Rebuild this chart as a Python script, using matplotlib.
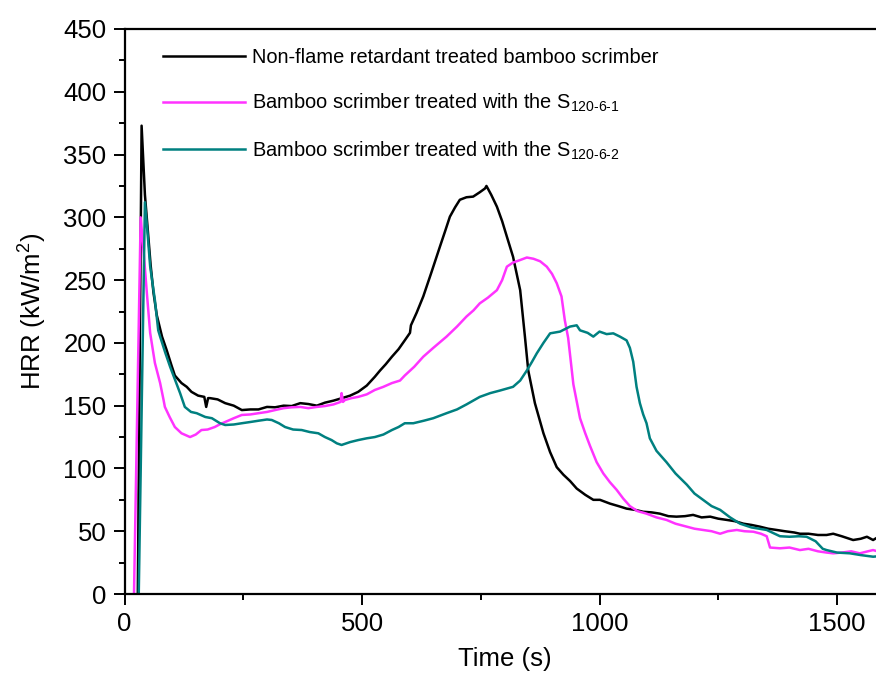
import matplotlib
matplotlib.use("Agg")
import matplotlib.pyplot as plt
from matplotlib.ticker import MultipleLocator

plt.rcParams['font.family'] = ['Liberation Sans', 'DejaVu Sans']
plt.rcParams['mathtext.fontset'] = 'custom'
plt.rcParams['mathtext.rm'] = 'Liberation Sans'
plt.rcParams['mathtext.it'] = 'Liberation Sans:italic'
plt.rcParams['mathtext.bf'] = 'Liberation Sans:bold'

# ---------------- data ----------------
black_t = [28, 36, 43, 49, 55, 61, 68, 79, 89, 99, 106, 120, 131, 141, 155, 168, 172, 176,
           180, 196, 212, 230, 247, 265, 282, 300, 317, 335, 352, 370, 387, 405, 422, 440,
           457, 475, 492, 510, 527, 538, 550, 563, 577, 590, 601, 603, 615, 629, 646, 664,
           675, 685, 696, 706, 720, 734, 748, 759, 762, 772, 784, 795, 805, 818, 833, 843,
           850, 864, 882, 896, 910, 924, 938, 952, 970, 987, 1001, 1022, 1040, 1057, 1075,
           1092, 1110, 1127, 1145, 1162, 1180, 1197, 1215, 1233, 1250, 1268, 1285, 1303,
           1320, 1338, 1355, 1373, 1390, 1410, 1422, 1440, 1460, 1478, 1492, 1510, 1534,
           1550, 1563, 1576, 1585]
black_v = [0, 373, 318, 290, 262, 240, 222, 205, 194, 182, 174, 168, 165, 161, 158, 157, 149, 156,
           156, 155, 152, 150, 146.5, 147, 147, 149, 148.7, 150, 149.7, 152, 151.3, 150, 152.4, 154,
           155.9, 158, 161, 166, 173, 178, 183, 189, 195, 202, 208, 214, 224, 237, 256, 276.6,
           289, 300.5, 308, 314, 316, 316.5, 320, 323, 325, 318, 308.5, 297, 284.6, 268.6, 242, 205,
           178, 152, 128, 113, 101, 95, 90, 84, 79, 75, 75, 72, 70, 68, 67,
           65.5, 65, 64, 62, 61.6, 62, 63, 61, 61.6, 60, 59, 58, 56,
           55, 53.6, 52, 51, 50, 49, 48, 48, 47, 47, 48, 46, 43,
           44, 45.6, 43, 45]

pink_t = [20, 34, 40, 47, 54, 64, 75, 82, 85, 95, 106, 120, 138, 150, 162, 175, 190, 200,
          212, 230, 247, 265, 282, 300, 317, 335, 352, 370, 387, 405, 422, 440, 455, 457,
          460, 464, 478, 492, 510, 527, 545, 563, 580, 590, 610, 629, 650, 678, 700, 720,
          735, 748, 765, 784, 795, 805, 818, 833, 847, 861, 875, 889, 900, 910, 920, 927,
          934, 945, 959, 970, 980, 994, 1008, 1022, 1036, 1050, 1064, 1080, 1099, 1120,
          1141, 1160, 1184, 1200, 1218, 1236, 1254, 1270, 1289, 1305, 1324, 1340, 1352,
          1359, 1380, 1400, 1422, 1440, 1460, 1478, 1492, 1510, 1530, 1548, 1565, 1576, 1585]
pink_v = [0, 300, 274, 240, 208, 184, 168, 155, 149, 141, 133, 128, 125, 127, 130.6, 131, 133, 135,
          137, 140, 142.6, 143, 144, 145, 146.5, 148, 148.7, 149, 148, 149, 149.7, 151, 153, 160,
          153, 154.5, 156, 157, 159, 162.5, 165, 168, 170, 174, 181, 189, 196, 205, 213, 221,
          226, 231.5, 236, 242, 250, 260.7, 264, 266, 268, 267, 265, 260.7, 255, 247.5, 237, 218,
          204, 167, 140, 128, 118, 105, 96, 89, 83, 76, 70, 66, 64, 61,
          59, 56, 53.6, 52, 51, 50, 48, 50, 51, 50, 49.6, 48, 46,
          37, 36.4, 37, 35, 36, 34, 33, 32.4, 33, 34, 32.4, 34, 35, 34]

teal_t = [30, 43, 48, 54, 64, 71, 75, 86, 96, 106, 117, 127, 140, 152, 170, 184, 201, 212,
          230, 247, 265, 282, 300, 310, 325, 338, 355, 373, 390, 408, 422, 436, 447, 457,
          475, 492, 510, 527, 545, 563, 577, 590, 608, 630, 650, 678, 700, 720, 748, 770,
          790, 818, 833, 847, 858, 868, 882, 896, 917, 938, 952, 959, 975, 987, 1000, 1015,
          1029, 1043, 1057, 1064, 1071, 1078, 1085, 1092, 1099, 1106, 1120, 1141, 1160,
          1184, 1200, 1218, 1236, 1254, 1275, 1296, 1320, 1352, 1380, 1400, 1420, 1436,
          1455, 1470, 1478, 1500, 1527, 1550, 1576, 1585]
teal_v = [0, 312, 290, 261, 234, 210, 205, 192, 181, 171, 160, 149, 145, 144, 141, 140, 136, 134.6,
          135, 136, 137, 138, 139, 138.6, 136, 133, 131, 130.6, 129, 128, 125, 122.6, 120, 118.7,
          121, 122.6, 124, 125, 127, 130.6, 133, 136, 136, 138, 140, 144, 147, 151, 157, 160,
          162, 165, 170, 178, 185, 191.7, 200, 207.6, 209, 213, 214, 210, 208, 205, 209, 207,
          207.6, 205, 202, 196, 185, 165, 152, 143, 136, 124, 114, 105, 96,
          87, 80, 75, 70, 67, 61, 56, 53, 51, 46, 45.6, 46, 45.6,
          42, 36, 35, 33, 32.4, 31, 29.7, 30]

labels = ["Non-flame retardant treated bamboo scrimber",
          r"Bamboo scrimber treated with the S$_{\mathregular{120‐6‐1}}$",
          r"Bamboo scrimber treated with the S$_{\mathregular{120‐6‐2}}$"]
colors = ["#000000", "#FF33FF", "#008080"]

x_ticks = [0, 500, 1000, 1500]
y_ticks = [0, 50, 100, 150, 200, 250, 300, 350, 400, 450]

# ---------------- figure ----------------
W, H = 876, 673
fig = plt.figure(figsize=(W / 100, H / 100), dpi=100)
ax = fig.add_axes([124.5 / W, 79 / H, 760 / W, 565 / H])

for t, v, c, lab in zip([black_t, pink_t, teal_t], [black_v, pink_v, teal_v], colors, labels):
    ax.plot(t, v, color=c, lw=1.8, label=lab)

ax.set_xlim(0, 1600)
ax.set_ylim(0, 450)
ax.set_xticks(x_ticks)
ax.set_yticks(y_ticks)
ax.xaxis.set_minor_locator(MultipleLocator(250))
ax.yaxis.set_minor_locator(MultipleLocator(25))
ax.tick_params(which='major', direction='out', length=8, width=1.4, labelsize=18.5, pad=5)
ax.tick_params(which='minor', direction='out', length=4.5, width=1.4)
ax.tick_params(top=False, right=False, which='both')
for s in ax.spines.values():
    s.set_linewidth(1.6)

ax.set_xlabel("Time (s)", fontsize=18.5, labelpad=8)
ax.set_ylabel(r"HRR (kW/m$^{\mathregular{2}}$)", fontsize=18.5, labelpad=10)

leg = ax.legend(loc='upper left', bbox_to_anchor=((163 - 124.5) / 760, 1 - 19 / 565),
                frameon=False, fontsize=14.4, handlelength=4.1, handletextpad=0.35,
                labelspacing=1.25, borderpad=0, borderaxespad=0)

fig.savefig("out.png", dpi=100)
